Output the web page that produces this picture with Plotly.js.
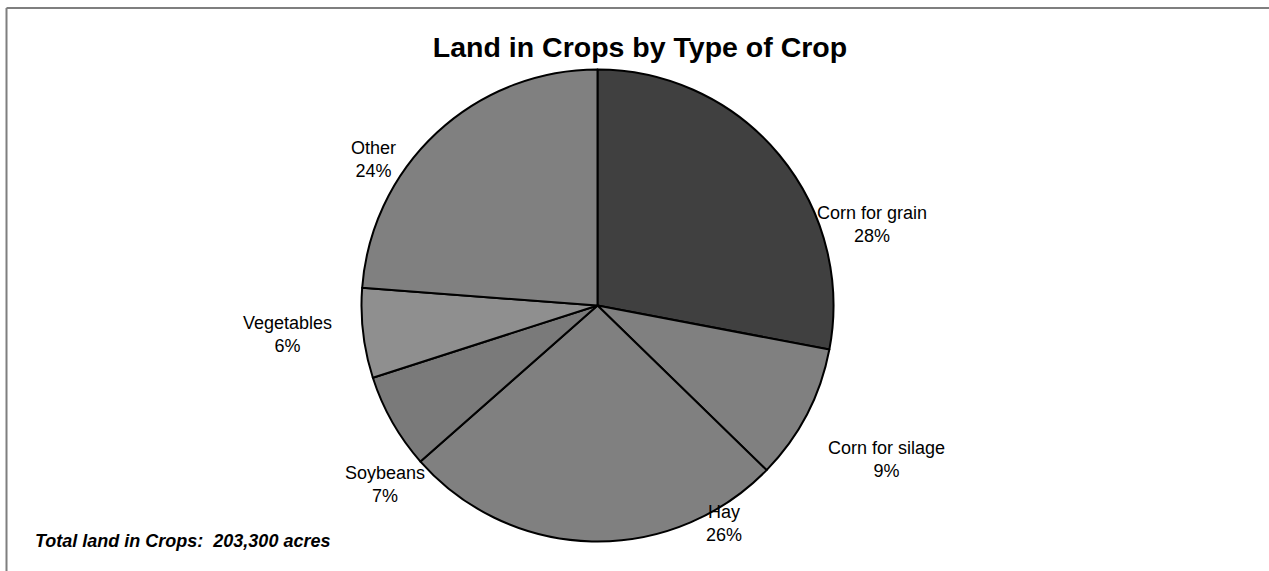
<!DOCTYPE html>
<html>
<head>
<meta charset="utf-8">
<script src="https://cdn.plot.ly/plotly-3.0.1.min.js"></script>
<style>
  html, body { margin: 0; padding: 0; background: #ffffff; }
  #chart { width: 1269px; height: 571px; }
</style>
</head>
<body>
<div id="chart"></div>
<script>
// Land in crops, acres, by type of crop
const crops = ['Corn for grain', 'Corn for silage', 'Hay', 'Soybeans', 'Vegetables', 'Other'];
const acres = [56900, 18900, 53300, 13300, 12500, 48400];
const totalAcres = 203300;

const sliceColors = ['#404040', '#808080', '#808080', '#7a7a7a', '#8f8f8f', '#808080'];

// Where each slice's label sits, in pixels of the 1269x571 page
const labelPx = [
  [872, 224], [886, 459], [724, 523], [385, 484], [287, 334], [373, 159]
];

const W = 1269, H = 571;
const px = x => x / W;
const py = y => 1 - y / H;

const font = 'Liberation Sans, Arial, sans-serif';

const sum = acres.reduce((a, b) => a + b, 0);
const annotations = crops.map((c, i) => ({
  text: c + '<br>' + Math.round(acres[i] / sum * 100) + '%',
  xref: 'paper', yref: 'paper',
  x: px(labelPx[i][0]), y: py(labelPx[i][1]),
  xanchor: 'center', yanchor: 'middle',
  showarrow: false,
  font: { family: font, size: 18, color: '#000000' }
}));

annotations.push({
  text: '<b><i>Total land in Crops:  ' + totalAcres.toLocaleString('en-US') + ' acres</i></b>',
  xref: 'paper', yref: 'paper',
  x: px(33), y: py(541),
  xanchor: 'left', yanchor: 'middle',
  showarrow: false,
  font: { family: font, size: 18, color: '#000000' }
});

const trace = {
  type: 'pie',
  labels: crops,
  values: acres,
  sort: false,
  direction: 'clockwise',
  rotation: 0,
  textinfo: 'none',
  hoverinfo: 'label+percent',
  marker: { colors: sliceColors, line: { color: '#000000', width: 2 } },
  domain: { x: [px(361.5), px(833.5)], y: [py(541.5), py(69.5)] },
  showlegend: false
};

const layout = {
  width: W, height: H,
  margin: { l: 0, r: 0, t: 0, b: 0 },
  paper_bgcolor: '#ffffff',
  plot_bgcolor: '#ffffff',
  title: {
    text: '<b>Land in Crops by Type of Crop</b>',
    font: { family: font, size: 28.5, color: '#000000' },
    x: px(640), xanchor: 'center',
    y: py(47), yanchor: 'middle'
  },
  annotations: annotations,
  shapes: [
    // chart frame, top and left edges
    { type: 'line', xref: 'paper', yref: 'paper', x0: px(6.5), x1: px(1275), y0: py(8), y1: py(8),
      line: { color: '#7f7f7f', width: 2 } },
    { type: 'line', xref: 'paper', yref: 'paper', x0: px(6.5), x1: px(6.5), y0: py(8), y1: py(580),
      line: { color: '#7f7f7f', width: 2 } }
  ]
};

Plotly.newPlot('chart', [trace], layout, { displayModeBar: false, staticPlot: true });
</script>
</body>
</html>
